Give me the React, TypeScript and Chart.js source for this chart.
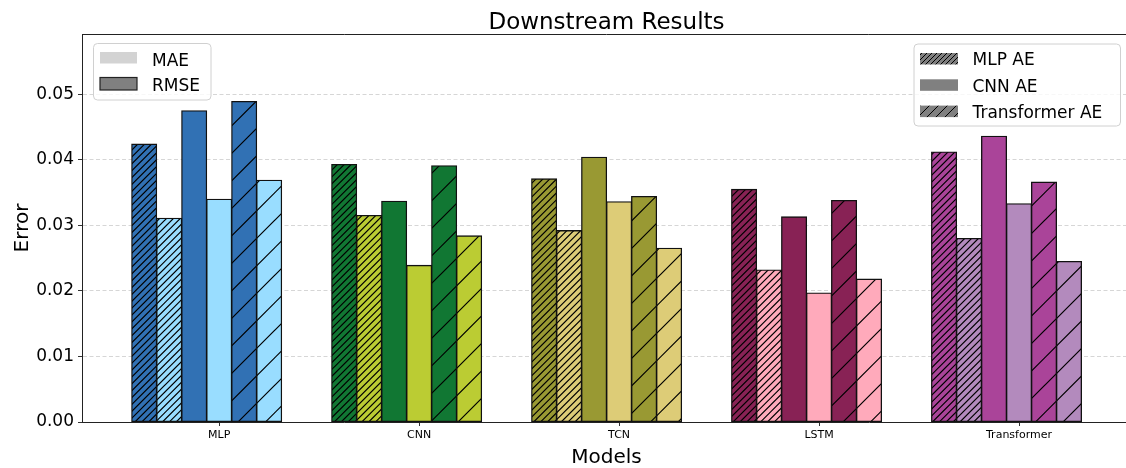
import React, { useEffect, useRef } from 'react';
import { Chart, registerables } from 'chart.js';

Chart.register(...registerables);

// Downstream error per model, for each autoencoder variant and metric
const models = ['MLP', 'CNN', 'TCN', 'LSTM', 'Transformer'];
const mlpAeRmse = [0.0424, 0.0393, 0.0371, 0.0355, 0.0412];
const mlpAeMae = [0.0311, 0.0315, 0.0292, 0.0232, 0.0280];
const cnnAeRmse = [0.0475, 0.0337, 0.0404, 0.0313, 0.0436];
const cnnAeMae = [0.0340, 0.0239, 0.0336, 0.0197, 0.0333];
const transformerAeRmse = [0.0489, 0.0391, 0.0344, 0.0338, 0.0366];
const transformerAeMae = [0.0369, 0.0284, 0.0265, 0.0218, 0.0245];
const yTicks = [0, 0.01, 0.02, 0.03, 0.04, 0.05];

const darkColors = ['#3171B4', '#117733', '#999933', '#882255', '#AA4499'];
const lightColors = ['#99DDFF', '#BBCC33', '#DDCC77', '#FFAABB', '#B38ABD'];

const FONT = "'DejaVu Sans', sans-serif";

// Diagonal "/" hatch tile over a solid fill
function hatchPattern(color: string, tile: number, lines: number, lw: number): CanvasPattern | string {
  const c = document.createElement('canvas');
  c.width = tile;
  c.height = tile;
  const g = c.getContext('2d');
  if (!g) return color;
  g.fillStyle = color;
  g.fillRect(0, 0, tile, tile);
  g.strokeStyle = '#000';
  g.lineWidth = lw;
  const step = tile / lines;
  g.beginPath();
  for (let k = 0; k <= 2 * lines + 1; k++) {
    const s = k * step;
    g.moveTo(s + 1, -1);
    g.lineTo(s - tile - 1, tile + 1);
  }
  g.stroke();
  return g.createPattern(c, 'repeat') || color;
}

type HatchKind = 'dense' | 'none' | 'sparse';

const variants: { label: string; values: number[]; colors: string[]; hatch: HatchKind }[] = [
  { label: 'MLP AE RMSE', values: mlpAeRmse, colors: darkColors, hatch: 'dense' },
  { label: 'MLP AE MAE', values: mlpAeMae, colors: lightColors, hatch: 'dense' },
  { label: 'CNN AE RMSE', values: cnnAeRmse, colors: darkColors, hatch: 'none' },
  { label: 'CNN AE MAE', values: cnnAeMae, colors: lightColors, hatch: 'none' },
  { label: 'Transformer AE RMSE', values: transformerAeRmse, colors: darkColors, hatch: 'sparse' },
  { label: 'Transformer AE MAE', values: transformerAeMae, colors: lightColors, hatch: 'sparse' },
];

const BAR_W = 0.125;

function fillFor(color: string, kind: HatchKind) {
  if (kind === 'dense') return hatchPattern(color, 55, 8, 1.2);
  if (kind === 'sparse') return hatchPattern(color, 55, 2, 1.2);
  return color;
}

function drawLegendBox(ctx: CanvasRenderingContext2D, x: number, y: number, w: number, h: number) {
  const r = 4;
  ctx.save();
  ctx.beginPath();
  ctx.moveTo(x + r, y);
  ctx.lineTo(x + w - r, y);
  ctx.arcTo(x + w, y, x + w, y + r, r);
  ctx.lineTo(x + w, y + h - r);
  ctx.arcTo(x + w, y + h, x + w - r, y + h, r);
  ctx.lineTo(x + r, y + h);
  ctx.arcTo(x, y + h, x, y + h - r, r);
  ctx.lineTo(x, y + r);
  ctx.arcTo(x, y, x + r, y, r);
  ctx.closePath();
  ctx.fillStyle = 'rgba(255,255,255,0.8)';
  ctx.fill();
  ctx.strokeStyle = '#d0d0d0';
  ctx.lineWidth = 1;
  ctx.stroke();
  ctx.restore();
}

const decorPlugin = {
  id: 'decor',
  afterDraw(chart: Chart) {
    const { ctx, chartArea } = chart;
    const { left, top, bottom } = chartArea;
    const right = chartArea.right;
    const cx = (left + right) / 2;
    ctx.save();

    // top spine
    ctx.strokeStyle = '#222';
    ctx.lineWidth = 1;
    ctx.beginPath();
    ctx.moveTo(left, top + 0.5);
    ctx.lineTo(right, top + 0.5);
    ctx.stroke();

    ctx.fillStyle = '#000';
    ctx.textBaseline = 'alphabetic';

    // title
    ctx.font = `23px ${FONT}`;
    ctx.textAlign = 'center';
    ctx.fillText('Downstream Results', cx, top - 5);

    // x axis title
    ctx.font = `20px ${FONT}`;
    ctx.fillText('Models', cx, bottom + 41);

    // y axis title
    ctx.save();
    ctx.translate(left - 54, (top + bottom) / 2);
    ctx.rotate(-Math.PI / 2);
    ctx.fillText('Error', 0, 0);
    ctx.restore();

    // metric legend
    const lx = left + 11.5;
    const ly = top + 9.5;
    drawLegendBox(ctx, lx, ly, 117.5, 56.5);
    ctx.fillStyle = '#d3d3d3';
    ctx.fillRect(lx + 6.5, ly + 8.5, 37, 11.5);
    ctx.fillStyle = '#808080';
    ctx.fillRect(lx + 6.5, ly + 34, 37, 12.5);
    ctx.strokeStyle = '#222';
    ctx.lineWidth = 1.2;
    ctx.strokeRect(lx + 6.5, ly + 34, 37, 12.5);
    ctx.fillStyle = '#000';
    ctx.font = `17px ${FONT}`;
    ctx.textAlign = 'left';
    ctx.fillText('MAE', lx + 58.5, ly + 22);
    ctx.fillText('RMSE', lx + 58.5, ly + 47.5);

    // autoencoder legend
    const rx = left + 832;
    const ry = top + 10;
    drawLegendBox(ctx, rx, ry, 206.5, 82);
    const rows: { label: string; fill: CanvasPattern | string }[] = [
      { label: 'MLP AE', fill: hatchPattern('#808080', 45, 9, 1) },
      { label: 'CNN AE', fill: '#808080' },
      { label: 'Transformer AE', fill: hatchPattern('#808080', 45, 5, 1) },
    ];
    rows.forEach((row, i) => {
      const py = ry + 9 + i * 26.3;
      ctx.fillStyle = row.fill as any;
      ctx.fillRect(rx + 6, py, 38, 11.5);
      ctx.fillStyle = '#000';
      ctx.fillText(row.label, rx + 58.5, py + 12.3);
    });

    ctx.restore();
  },
};

export default function App() {
  const canvasRef = useRef<HTMLCanvasElement | null>(null);

  useEffect(() => {
    const canvas = canvasRef.current;
    if (!canvas) return;

    const datasets = variants.map((v, j) => ({
      label: v.label,
      data: v.values.map((y, i) => ({ x: i + (j - 3) * BAR_W, y })),
      backgroundColor: v.colors.map((c) => fillFor(c, v.hatch)),
      borderColor: '#111',
      borderWidth: 1.3,
      borderSkipped: false as const,
      inflateAmount: 0.5,
      grouped: false,
      barPercentage: 1,
      categoryPercentage: 1,
    }));

    const chart = new Chart(canvas, {
      type: 'bar',
      data: { datasets: datasets as any },
      plugins: [decorPlugin as any],
      options: {
        responsive: false,
        devicePixelRatio: 1,
        animation: false,
        layout: { padding: { top: 34, left: 0, right: 1, bottom: 0 } },
        plugins: {
          legend: { display: false },
          title: { display: false },
          tooltip: { enabled: false },
        },
        scales: {
          x: {
            type: 'linear',
            min: -0.686,
            max: 4.56,
            offset: false,
            afterBuildTicks: (scale: any) => {
              scale.ticks = models.map((_, i) => ({ value: i }));
            },
            afterFit: (scale: any) => {
              scale.height = 46;
            },
            ticks: {
              autoSkip: false,
              maxRotation: 0,
              padding: 3,
              color: '#000',
              font: { family: FONT, size: 11 },
              callback: (value: any) => models[Math.round(Number(value))] ?? '',
            },
            grid: {
              display: true,
              offset: false,
              drawOnChartArea: false,
              drawTicks: true,
              tickLength: 4,
              tickColor: '#333',
            },
            border: { display: true, color: '#222', width: 1 },
          },
          y: {
            min: 0,
            max: 0.0592,
            afterBuildTicks: (scale: any) => {
              scale.ticks = yTicks.map((v) => ({ value: v }));
            },
            afterFit: (scale: any) => {
              scale.width = 82;
            },
            ticks: {
              padding: 4,
              color: '#000',
              font: { family: FONT, size: 17 },
              callback: (value: any) => Number(value).toFixed(2),
            },
            grid: {
              display: true,
              color: 'rgba(0,0,0,0.16)',
              lineWidth: 1,
              drawTicks: true,
              tickLength: 4,
              tickColor: '#333',
              tickBorderDash: [],
            },
            border: { display: true, color: '#222', width: 1, dash: [4, 2.5] },
          },
        },
      } as any,
    });

    return () => chart.destroy();
  }, []);

  return (
    <div
      style={{
        position: 'fixed',
        left: 0,
        top: 0,
        width: 1126,
        height: 468,
        overflow: 'hidden',
        background: '#fff',
      }}
    >
      <canvas ref={canvasRef} width={1132} height={468} style={{ display: 'block', width: 1132, height: 468 }} />
    </div>
  );
}
